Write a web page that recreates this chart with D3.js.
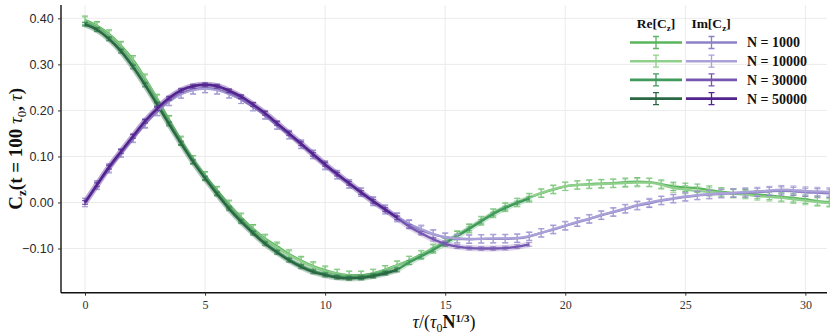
<!DOCTYPE html>
<html>
<head>
<meta charset="utf-8">
<script src="https://cdn.jsdelivr.net/npm/d3@7"></script>
<style>
    body { margin: 0; background: #fff; }
    svg { display: block; }
</style>
</head>
<body>
<svg id="chart" width="830" height="336"></svg>
<script>
// sample grid, tau / (tau0 N^(1/3))
var tau = [0, 0.5, 1, 1.5, 2, 2.5, 3, 3.5, 4, 4.5, 5, 5.5, 6, 6.5, 7, 7.5, 8, 8.5, 9, 9.5,
    10, 10.5, 11, 11.5, 12, 12.5, 13, 13.5, 14, 14.5, 15, 15.5, 16, 16.5, 17, 17.5, 18, 18.5, 19, 19.5,
    20, 20.5, 21, 21.5, 22, 22.5, 23, 23.5, 24, 24.5, 25, 25.5, 26, 26.5, 27, 27.5, 28, 28.5, 29, 29.5,
    30, 30.5, 31];

var reN1000 = [0.396, 0.384, 0.366, 0.341, 0.310, 0.270, 0.226, 0.180, 0.135, 0.093, 0.058, 0.026, -0.004, -0.032, -0.057, -0.078, -0.095, -0.112, -0.126, -0.138,
    -0.147, -0.154, -0.158, -0.158, -0.154, -0.146, -0.136, -0.126, -0.114, -0.101, -0.087, -0.072, -0.057, -0.040, -0.023, -0.010, 0.000, 0.010, 0.020, 0.028,
    0.035, 0.038, 0.040, 0.041, 0.042, 0.044, 0.045, 0.044, 0.040, 0.035, 0.033, 0.031, 0.027, 0.023, 0.021, 0.019, 0.017, 0.015, 0.012, 0.010,
    0.007, 0.003, 0.001];
var reN10000 = [0.394, 0.382, 0.364, 0.339, 0.307, 0.268, 0.224, 0.178, 0.133, 0.092, 0.056, 0.024, -0.006, -0.034, -0.059, -0.080, -0.098, -0.114, -0.128, -0.140,
    -0.149, -0.155, -0.159, -0.159, -0.155, -0.147, -0.137, -0.126, -0.113, -0.099, -0.085, -0.070, -0.055, -0.039, -0.024, -0.011, 0.000, 0.011, 0.021, 0.029,
    0.035, 0.038, 0.039, 0.040, 0.041, 0.042, 0.043, 0.043, 0.038, 0.031, 0.028, 0.025, 0.023, 0.021, 0.019, 0.017, 0.014, 0.012, 0.010, 0.007,
    0.004, 0.001, -0.001];
var reN30000 = [0.388, 0.376, 0.356, 0.330, 0.296, 0.257, 0.215, 0.172, 0.130, 0.090, 0.054, 0.020, -0.012, -0.040, -0.065, -0.088, -0.107, -0.124, -0.138, -0.149,
    -0.156, -0.161, -0.163, -0.162, -0.158, -0.152, -0.145, -0.130, -0.117, -0.103, -0.088, -0.073, -0.057, -0.041, -0.025, -0.012, -0.001, 0.009];
var reN50000 = [0.387, 0.375, 0.355, 0.328, 0.294, 0.255, 0.213, 0.170, 0.128, 0.088, 0.052, 0.018, -0.014, -0.042, -0.067, -0.090, -0.109, -0.126, -0.140, -0.151,
    -0.158, -0.163, -0.165, -0.164, -0.160, -0.154, -0.147];

var imN1000 = [0.000, 0.038, 0.075, 0.108, 0.140, 0.172, 0.198, 0.220, 0.236, 0.245, 0.248, 0.245, 0.236, 0.224, 0.208, 0.190, 0.168, 0.147, 0.126, 0.104,
    0.080, 0.060, 0.040, 0.022, 0.002, -0.016, -0.033, -0.048, -0.060, -0.069, -0.076, -0.079, -0.080, -0.079, -0.079, -0.079, -0.078, -0.074, -0.066, -0.059,
    -0.051, -0.043, -0.036, -0.028, -0.021, -0.014, -0.007, -0.002, 0.004, 0.008, 0.012, 0.015, 0.017, 0.019, 0.020, 0.021, 0.022, 0.024, 0.025, 0.024,
    0.022, 0.021, 0.020];
var imN10000 = [0.000, 0.037, 0.073, 0.107, 0.139, 0.170, 0.197, 0.219, 0.235, 0.244, 0.247, 0.244, 0.236, 0.224, 0.209, 0.191, 0.169, 0.148, 0.127, 0.105,
    0.082, 0.061, 0.041, 0.023, 0.004, -0.014, -0.031, -0.046, -0.058, -0.068, -0.075, -0.078, -0.079, -0.079, -0.078, -0.078, -0.077, -0.073, -0.066, -0.058,
    -0.050, -0.042, -0.035, -0.027, -0.020, -0.013, -0.006, 0.000, 0.005, 0.009, 0.013, 0.016, 0.018, 0.020, 0.021, 0.023, 0.024, 0.026, 0.028, 0.027,
    0.025, 0.024, 0.023];
var imN30000 = [0.000, 0.038, 0.076, 0.110, 0.143, 0.176, 0.203, 0.226, 0.243, 0.252, 0.255, 0.252, 0.242, 0.229, 0.212, 0.193, 0.171, 0.149, 0.127, 0.104,
    0.082, 0.061, 0.041, 0.021, 0.002, -0.016, -0.034, -0.052, -0.067, -0.080, -0.090, -0.096, -0.099, -0.100, -0.100, -0.099, -0.096, -0.091];
var imN50000 = [0.000, 0.039, 0.077, 0.111, 0.144, 0.177, 0.204, 0.227, 0.244, 0.253, 0.256, 0.253, 0.243, 0.230, 0.213, 0.194, 0.172, 0.150, 0.128, 0.105,
    0.083, 0.062, 0.042, 0.022, 0.003, -0.015, -0.033];

var sizeLabels = ["N = 1000", "N = 10000", "N = 30000", "N = 50000"];
var errHalf = [0.009, 0.009, 0.004, 0.004];
var greens = ["#5ab55c", "#8fd08c", "#3f9a5c", "#2a6843"];
var purples = ["#8d80c6", "#a9a1d8", "#7556b0", "#53248f"];

var xTicks = [0, 5, 10, 15, 20, 25, 30];
var yTicks = [-0.1, 0, 0.1, 0.2, 0.3, 0.4];

var reSeries = [reN1000, reN10000, reN30000, reN50000];
var imSeries = [imN1000, imN10000, imN30000, imN50000];

var plotLeft = 61, plotRight = 827, plotTop = 5, plotBottom = 292.7;

var x = d3.scaleLinear().domain([-1, 30.9]).range([plotLeft, plotRight]);
var y = d3.scaleLinear().domain([-0.196, 0.429]).range([plotBottom, plotTop]);

var svg = d3.select("#chart");

// grid
svg.append("g").selectAll("line")
    .data(xTicks)
    .enter().append("line")
    .attr("x1", function (d) { return x(d); })
    .attr("x2", function (d) { return x(d); })
    .attr("y1", plotTop).attr("y2", plotBottom)
    .attr("stroke", "#ebebeb").attr("stroke-width", 1);
svg.append("g").selectAll("line")
    .data(yTicks)
    .enter().append("line")
    .attr("y1", function (d) { return y(d); })
    .attr("y2", function (d) { return y(d); })
    .attr("x1", plotLeft).attr("x2", plotRight)
    .attr("stroke", "#ebebeb").attr("stroke-width", 1);

// axes
var xAxis = svg.append("g")
    .attr("transform", "translate(0," + plotBottom + ")")
    .call(d3.axisBottom(x).tickValues(xTicks).tickSize(3).tickFormat(d3.format("d")));
var yAxis = svg.append("g")
    .attr("transform", "translate(" + plotLeft + ",0)")
    .call(d3.axisLeft(y).tickValues(yTicks).tickSize(3).tickFormat(d3.format(".2f")));

xAxis.select(".domain").attr("stroke", "#111").attr("stroke-width", 1.4)
    .attr("d", "M" + plotLeft + ",0H" + plotRight);
yAxis.select(".domain").attr("stroke", "#111").attr("stroke-width", 1.4)
    .attr("d", "M0," + plotTop + "V" + plotBottom);
xAxis.selectAll(".tick line").attr("stroke", "#333");
yAxis.selectAll(".tick line").attr("stroke", "#333");
xAxis.selectAll(".tick text")
    .attr("font-family", "'Liberation Serif', serif")
    .attr("font-size", 12)
    .attr("fill", "#333")
    .attr("dy", "0.9em");
yAxis.selectAll(".tick text")
    .attr("font-family", "'Liberation Sans', Arial, sans-serif")
    .attr("font-size", 12.5)
    .attr("fill", "#2a2a2a")
    .attr("dx", "-0.1em");

var plot = svg.append("g");

var line = d3.line()
    .x(function (d) { return x(d[0]); })
    .y(function (d) { return y(d[1]); })
    .curve(d3.curveMonotoneX);

function drawSeries(values, color, i) {
    var pts = values.map(function (v, k) { return [tau[k], v]; });
    var g = plot.append("g");
    if (i >= 2) {
        // dense error bars in the original read as a fuzzy band
        g.append("path")
            .attr("d", line(pts))
            .attr("fill", "none")
            .attr("stroke", color)
            .attr("stroke-opacity", 0.25)
            .attr("stroke-width", 6);
    }
    var e = errHalf[i];
    var bars = g.selectAll(".eb")
        .data(pts)
        .enter().append("g")
        .attr("class", "eb")
        .attr("stroke", color)
        .attr("stroke-opacity", i >= 2 ? 0.55 : 0.85)
        .attr("stroke-width", 1.1);
    bars.append("line")
        .attr("x1", function (d) { return x(d[0]); })
        .attr("x2", function (d) { return x(d[0]); })
        .attr("y1", function (d) { return y(d[1] - e); })
        .attr("y2", function (d) { return y(d[1] + e); });
    bars.append("line")
        .attr("x1", function (d) { return x(d[0]) - 3; })
        .attr("x2", function (d) { return x(d[0]) + 3; })
        .attr("y1", function (d) { return y(d[1] - e); })
        .attr("y2", function (d) { return y(d[1] - e); });
    bars.append("line")
        .attr("x1", function (d) { return x(d[0]) - 3; })
        .attr("x2", function (d) { return x(d[0]) + 3; })
        .attr("y1", function (d) { return y(d[1] + e); })
        .attr("y2", function (d) { return y(d[1] + e); });
    g.append("path")
        .attr("d", line(pts))
        .attr("fill", "none")
        .attr("stroke", color)
        .attr("stroke-width", 2.3)
        .attr("stroke-linejoin", "round");
}

reSeries.forEach(function (s, i) { drawSeries(s, greens[i], i); });
imSeries.forEach(function (s, i) { drawSeries(s, purples[i], i); });

// axis titles
var yTitle = svg.append("text")
    .attr("transform", "translate(22," + ((plotTop + plotBottom) / 2) + ") rotate(-90)")
    .attr("text-anchor", "middle")
    .attr("font-family", "'Liberation Serif', serif")
    .attr("font-weight", "bold")
    .attr("font-size", 19)
    .attr("fill", "#111");
yTitle.append("tspan").text("C");
yTitle.append("tspan").attr("font-size", 13).attr("dy", 4).text("z");
yTitle.append("tspan").attr("dy", -4).text("(t = 100 ");
yTitle.append("tspan").attr("font-style", "italic").attr("font-weight", "normal").text("τ");
yTitle.append("tspan").attr("font-size", 13).attr("font-weight", "normal").attr("dy", 4).text("0");
yTitle.append("tspan").attr("dy", -4).text(", ");
yTitle.append("tspan").attr("font-style", "italic").attr("font-weight", "normal").text("τ");
yTitle.append("tspan").text(")");

var xTitle = svg.append("text")
    .attr("x", (plotLeft + plotRight) / 2)
    .attr("y", 328)
    .attr("text-anchor", "middle")
    .attr("font-family", "'Liberation Serif', serif")
    .attr("font-size", 18)
    .attr("fill", "#111");
xTitle.append("tspan").attr("font-style", "italic").text("τ");
xTitle.append("tspan").text("/(");
xTitle.append("tspan").attr("font-style", "italic").text("τ");
xTitle.append("tspan").attr("font-size", 12).attr("dy", 4).text("0");
xTitle.append("tspan").attr("dy", -4).attr("font-weight", "bold").text("N");
xTitle.append("tspan").attr("font-size", 11).attr("font-weight", "bold").attr("dy", -6).text("1/3");
xTitle.append("tspan").attr("dy", 6).text(")");

// legend
var legend = svg.append("g");
var headers = [["Re", 656], ["Im", 711]];
headers.forEach(function (h) {
    var t = legend.append("text")
        .attr("x", h[1]).attr("y", 28)
        .attr("text-anchor", "middle")
        .attr("font-family", "'Liberation Serif', serif")
        .attr("font-weight", "bold")
        .attr("font-size", 13.5)
        .attr("fill", "#111");
    t.append("tspan").text(h[0] + "[C");
    t.append("tspan").attr("font-size", 9).attr("dy", 3).text("z");
    t.append("tspan").attr("dy", -3).text("]");
});

var rows = legend.selectAll(".row")
    .data(sizeLabels)
    .enter().append("g")
    .attr("class", "row")
    .attr("transform", function (d, i) { return "translate(0," + (42.5 + i * 18.7) + ")"; });

[[630, 682, greens], [686, 737, purples]].forEach(function (k) {
    var cx = (k[0] + k[1]) / 2;
    rows.append("line")
        .attr("x1", k[0]).attr("x2", k[1]).attr("y1", 0).attr("y2", 0)
        .attr("stroke", function (d, i) { return k[2][i]; })
        .attr("stroke-width", 2.6);
    rows.append("path")
        .attr("d", "M" + (cx - 3) + ",-6H" + (cx + 3) + "M" + cx + ",-6V6M" + (cx - 3) + ",6H" + (cx + 3))
        .attr("fill", "none")
        .attr("stroke", function (d, i) { return k[2][i]; })
        .attr("stroke-width", 1.3);
});

rows.append("text")
    .attr("x", 747)
    .attr("y", 0)
    .attr("dy", "0.35em")
    .attr("font-family", "'Liberation Serif', serif")
    .attr("font-weight", "bold")
    .attr("font-size", 14)
    .attr("fill", "#111")
    .text(function (d) { return d; });
</script>
</body>
</html>
